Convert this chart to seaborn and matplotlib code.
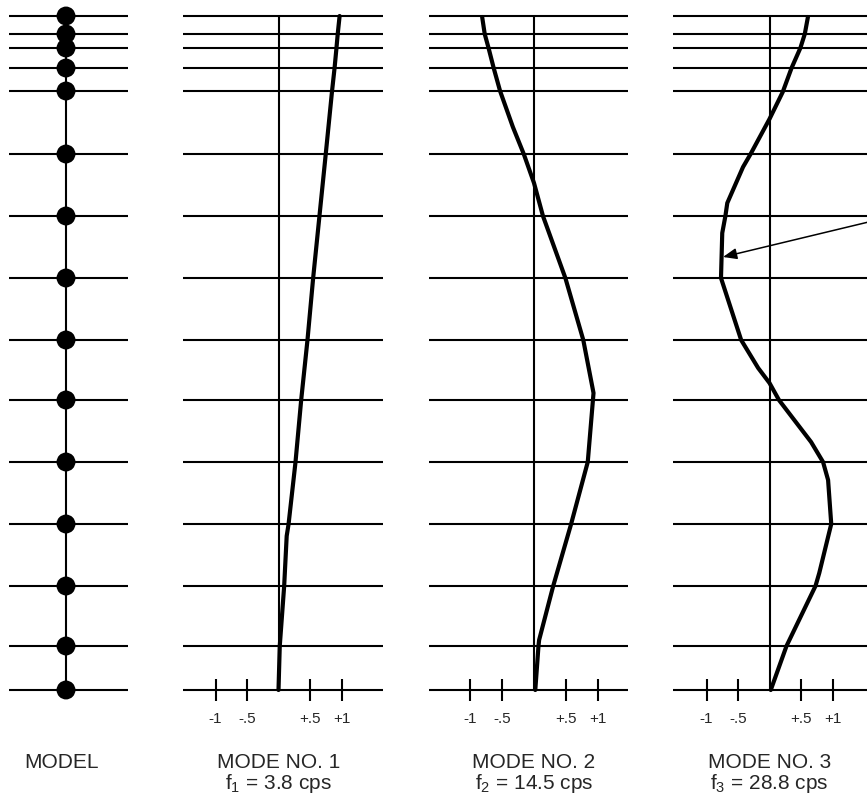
import numpy as np
import pandas as pd
import matplotlib
matplotlib.use("Agg")
import matplotlib.pyplot as plt
import seaborn as sns

# ---------------- data ----------------
# floor levels of the lumped-mass model (height above base, arbitrary units)
levels = [0, 44, 104, 166, 228, 290, 350, 412, 474, 536, 599, 622, 642, 656, 674]

# mode shapes (normalised amplitude vs height)
mode1_h = [0, 44, 104, 154, 166, 228, 290, 350, 412, 474, 536, 599, 622, 642, 656, 674]
mode1_v = [0.0, 0.02, 0.09, 0.13, 0.16, 0.27, 0.36, 0.46, 0.55, 0.65, 0.75, 0.85, 0.89, 0.92, 0.94, 0.97]

mode2_h = [0, 44, 50, 104, 166, 228, 297, 350, 412, 474, 507, 536, 563, 599, 622, 642, 656, 673]
mode2_v = [0.02, 0.07, 0.08, 0.30, 0.58, 0.84, 0.93, 0.77, 0.49, 0.14, 0.0, -0.16, -0.33, -0.53, -0.63, -0.71, -0.77, -0.81]

mode3_h = [0, 44, 104, 117, 166, 210, 228, 248, 290, 307, 322, 350, 412, 457, 474, 487, 523, 536, 571, 598, 622, 642, 656, 673]
mode3_v = [0.02, 0.27, 0.73, 0.79, 0.98, 0.93, 0.85, 0.66, 0.15, 0.0, -0.18, -0.45, -0.77, -0.75, -0.70, -0.67, -0.42, -0.30, 0.0, 0.21, 0.35, 0.49, 0.56, 0.61]

mode_titles = ["MODE NO. 1", "MODE NO. 2", "MODE NO. 3"]
mode_freqs = ["3.8", "14.5", "28.8"]
tick_values = [-1, -0.5, 0.5, 1]
tick_labels = ["-1", "-.5", "+.5", "+1"]
model_label = "MODEL"

# ---------------- style ----------------
sns.set_theme(style="white")
plt.rcParams['font.family'] = ['Liberation Sans', 'DejaVu Sans']
plt.rcParams['mathtext.default'] = 'regular'

W, H = 867, 801
fig = plt.figure(figsize=(W / 100, H / 100), dpi=100)
YLIM = (690 - H, 690)
LW = 1.5

def add_axes(x0, x1):
    ax = fig.add_axes([x0 / W, 0, (x1 - x0) / W, 1])
    ax.set_ylim(*YLIM)
    ax.axis('off')
    return ax

# ---------------- model panel ----------------
ax0 = add_axes(0, 150)
ax0.set_xlim(-66, 84)
ax0.hlines(levels, -57, 62, color='black', lw=LW, zorder=1)
ax0.vlines(0, levels[0], levels[-1], color='black', lw=LW, zorder=1)
sns.scatterplot(x=[0] * len(levels), y=levels, s=185, color='black',
                edgecolor='none', zorder=3, ax=ax0, legend=False)
ax0.axis('off')
ax0.text(-4, -78, model_label, ha='center', va='baseline', fontsize=15, clip_on=False)

# ---------------- mode panels ----------------
panels = [
    # ax_left_px, ax_right_px, zero_px, unit_px, line_left, line_right
    (150, 405, 278.5, 63, -1.516, 1.659),
    (405, 650, 534.0, 64, -1.64, 1.47),
    (650, 867, 769.5, 63, -1.53, 1.9),
]
mode_h = [mode1_h, mode2_h, mode3_h]
mode_v = [mode1_v, mode2_v, mode3_v]

axes = []
for k, (xl, xr, z, u, ll, lr) in enumerate(panels):
    ax = add_axes(xl, xr)
    ax.set_xlim((xl - z) / u, (xr - z) / u)
    ax.hlines(levels, ll, lr, color='black', lw=LW, zorder=1)
    ax.vlines(0, levels[0], levels[-1], color='black', lw=LW, zorder=1)
    ax.vlines(tick_values, -11, 11, color='black', lw=LW, zorder=1)
    df = pd.DataFrame({'h': mode_h[k], 'v': mode_v[k]})
    sns.lineplot(data=df, x='v', y='h', sort=False, estimator=None,
                 color='black', lw=3.0, ax=ax, zorder=3, legend=False)
    ax.axis('off')
    for tv, tl in zip(tick_values, tick_labels):
        ax.text(tv, -33, tl, ha='center', va='baseline', fontsize=11, clip_on=False)
    ax.text(0, -78, mode_titles[k], ha='center', va='baseline', fontsize=15, clip_on=False)
    ax.text(0, -99, "f$_{%d}$ = %s cps" % (k + 1, mode_freqs[k]),
            ha='center', va='baseline', fontsize=15, clip_on=False)
    axes.append(ax)

# arrow pointing at the third-mode curve
axes[2].annotate('', xy=(-0.738, 433), xytext=(2.1, 476),
                 arrowprops=dict(arrowstyle='-|>,head_length=0.55,head_width=0.22',
                                 mutation_scale=15, lw=1.1, color='black',
                                 shrinkA=0, shrinkB=0),
                 annotation_clip=False)

fig.savefig("out.png", dpi=100)
